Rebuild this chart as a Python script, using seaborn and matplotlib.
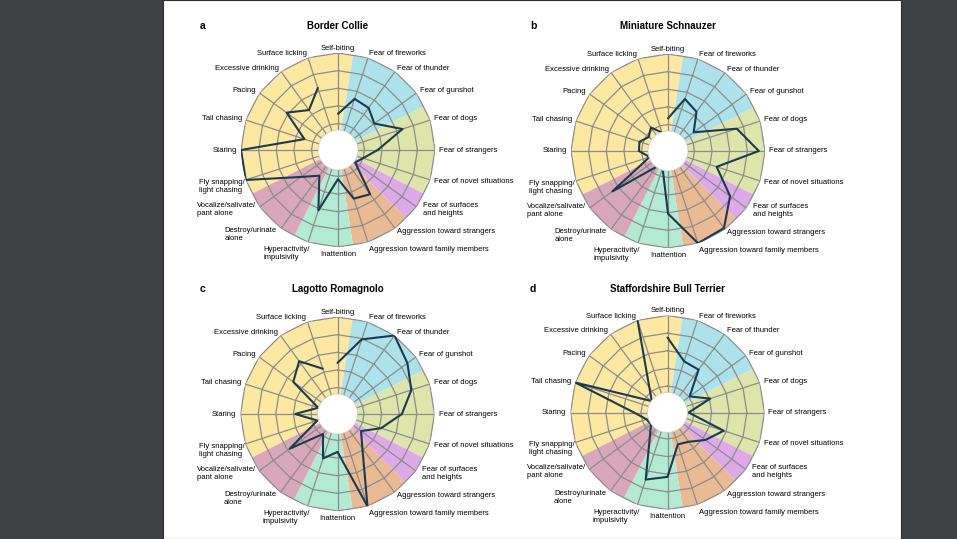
import numpy as np
import pandas as pd
import matplotlib.pyplot as plt
import seaborn as sns

## Radar charts of behaviour scores for four breeds

sns.set_theme(style="white")
plt.rcParams['font.family'] = ['Liberation Sans', 'DejaVu Sans']

categories = ['Self-biting', 'Fear of fireworks', 'Fear of thunder', 'Fear of gunshot',
              'Fear of dogs', 'Fear of strangers', 'Fear of novel situations',
              'Fear of surfaces\nand heights', 'Aggression toward strangers',
              'Aggression toward family members', 'Inattention',
              'Hyperactivity/\nimpulsivity', 'Destroy/urinate\nalone',
              'Vocalize/salivate/\npant alone', 'Fly snapping/\nlight chasing',
              'Staring', 'Tail chasing', 'Pacing', 'Excessive drinking', 'Surface licking']

## groups of categories (indices into categories) and their background colour
groups = [[14, 15, 16, 17, 18, 19, 0], [1, 2, 3], [4, 5, 6], [7], [8, 9], [10, 11], [12, 13]]
group_colors = ['#fde8a2', '#aee2ea', '#dee5ab', '#dda9e8', '#e9ba94', '#b3ead4', '#d8a7b9']

breeds = ['Border Collie', 'Miniature Schnauzer', 'Lagotto Romagnolo', 'Staffordshire Bull Terrier']
letters = ['a', 'b', 'c', 'd']

border_collie = [0.31, 0.51, 0.49, 0.41, 0.67, 0.35, 0.20, 0.14, 0.52, 0.48,
                 0.23, 0.62, 0.26, 0.42, 1.00, 1.00, 0.30, 0.62, 0.46, 0.64]
miniature_schnauzer = [0.27, 0.52, 0.45, 0.26, 0.72, 0.93, 0.48, 0.77, 0.98, 1.00,
                       0.61, 0.10, 0.12, 0.68, 0.12, 0.23, 0.24, 0.17, 0.23, 0.12]
lagotto_romagnolo = [0.48, 0.79, 1.00, 0.88, 0.78, 0.63, 0.42, 0.23, 0.38, 1.00,
                     0.33, 0.43, 0.18, 0.57, 0.14, 0.38, 0.13, 0.52, 0.64, 0.44]
staffordshire = [0.75, 0.51, 0.50, 0.21, 0.41, 0.14, 0.57, 0.43, 0.31, 0.28,
                 0.63, 0.70, 0.24, 0.13, 0.15, 0.28, 1.00, 0.12, 0.25, 1.00]
scores = [border_collie, miniature_schnauzer, lagotto_romagnolo, staffordshire]

rings = [0.2, 0.4, 0.6, 0.8, 1.0]

## layout (pixels of a 957x539 figure)
W, H = 957, 539
centers = [(338, 150), (668, 151), (337.5, 414), (667.5, 412.5)]
R = 97
off = 0.1  # radial origin offset, leaves room for the hole

# small label nudges in pixels (x right, y up)
nudge = {0: (0, -3), 7: (3, 0), 11: (3, 0), 12: (-2, -3), 14: (3, -5)}

n = len(categories)
theta = np.arange(n) * 2 * np.pi / n
half = np.pi / n
r_mid = (1 + off) * np.cos(half) - off

fig = plt.figure(figsize=(W / 100, H / 100), dpi=100, facecolor='#3e4144')
fig.add_artist(plt.Rectangle((163 / W, 0), (901 - 163) / W, 1, transform=fig.transFigure,
                             facecolor='white', edgecolor='#2c2e30', lw=0.8, zorder=-1))

for k in range(4):
    cx, cy = centers[k]
    ax = fig.add_axes([(cx - R) / W, (H - cy - R) / H, 2 * R / W, 2 * R / H], projection='polar')
    ax.set_theta_zero_location('N')
    ax.set_theta_direction(-1)
    ax.set_ylim(0, 1)
    ax.set_rorigin(-off)
    ax.set_axis_off()

    # coloured sectors
    for g, col in zip(groups, group_colors):
        t0 = theta[g[0]] - half
        if g[0] > g[-1]:
            tt = np.concatenate([theta[g[0]:], theta[:g[-1] + 1] + 2 * np.pi])
        else:
            tt = theta[g]
        t1 = tt[-1] + half
        ts = np.concatenate([[t0, t0], tt, [t1, t1]])
        rs = np.concatenate([[0, r_mid], np.ones(len(tt)), [r_mid, 0]])
        arc = np.linspace(t1, t0, 20)
        ax.fill(np.concatenate([ts, arc]), np.concatenate([rs, np.zeros(20)]),
                color=col, lw=0, zorder=1)

    # grid
    tc = np.append(theta, theta[0])
    for rr in rings:
        ax.plot(tc, [rr] * (n + 1), color='#8c8c8c', lw=0.9, zorder=2)
    for t in theta:
        ax.plot([t, t], [0, 1], color='#8c8c8c', lw=0.9, zorder=2)

    # scores
    df = pd.DataFrame({'theta': tc, 'score': scores[k] + [scores[k][0]]})
    sns.lineplot(data=df, x='theta', y='score', sort=False, ax=ax,
                 color='#1c3a4f', lw=1.5, zorder=3)
    ax.set_xlabel('')
    ax.set_ylabel('')

    # white hole in the middle
    ax.add_patch(plt.Circle((0.5, 0.5), 20 / (2 * R), transform=ax.transAxes, clip_on=False,
                            facecolor='white', edgecolor='#c8c8c8', lw=0.5, zorder=4))

    # category labels
    r_lab = (1 + 4 / R) * (1 + off) - off
    for i, (t, lab) in enumerate(zip(theta, categories)):
        s, c = np.sin(t), np.cos(t)
        ha = 'left' if s > 0.05 else ('right' if s < -0.05 else 'center')
        va = 'bottom' if c > 0.99 else ('top' if c < -0.9 else 'center')
        dx, dy = nudge.get(i, (0, 0))
        ax.annotate(lab, xy=(t, r_lab), xytext=(dx * 0.72, dy * 0.72), textcoords='offset points',
                    ha=ha, va=va, fontsize=5.5, multialignment='left', color='black',
                    annotation_clip=False, zorder=5)

    ty = 1 - 26 / H if k < 2 else 1 - 289 / H
    fig.text(cx / W, ty, breeds[k], ha='center', va='center',
             fontsize=7, fontweight='bold', color='black')
    fig.text((cx - 135) / W, ty, letters[k], ha='center',
             va='center', fontsize=7.5, fontweight='bold', color='black')

fig.savefig('out.png', dpi=100, facecolor=fig.get_facecolor())
